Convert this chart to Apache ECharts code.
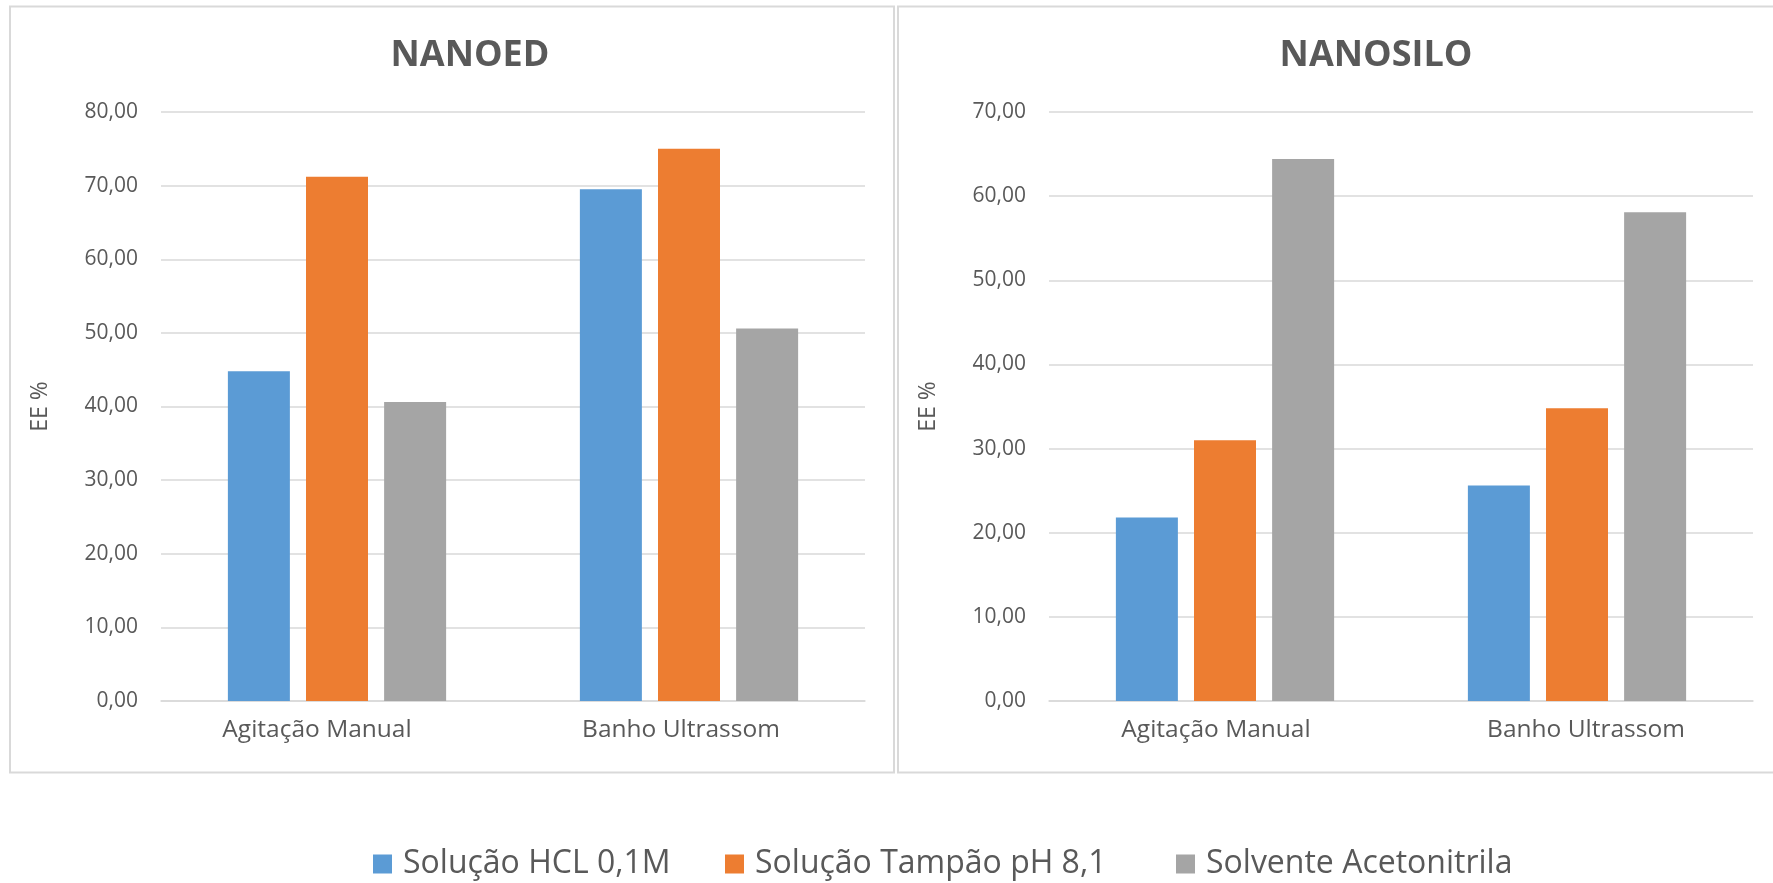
<!DOCTYPE html>
<html>
<head>
<meta charset="utf-8">
<title>EE % – NANOED / NANOSILO</title>
<script src="https://cdn.jsdelivr.net/npm/echarts@6/dist/echarts.min.js"></script>
<style>
  html, body { margin: 0; padding: 0; background: #ffffff; }
  #chart { width: 1773px; height: 883px; }
</style>
</head>
<body>
<div id="chart"></div>
<script>
// Categories and series
const categories = ['Agitação Manual', 'Banho Ultrassom'];
const seriesNames = ['Solução HCL 0,1M', 'Solução Tampão pH 8,1', 'Solvente Acetonitrila'];

// NANOED (EE %)
const nanoedHCL = [44.8, 69.5];
const nanoedTampao = [71.2, 75.0];
const nanoedAcetonitrila = [40.6, 50.6];

// NANOSILO (EE %)
const nanosiloHCL = [21.8, 25.6];
const nanosiloTampao = [31.0, 34.8];
const nanosiloAcetonitrila = [64.4, 58.1];

// Axis ranges
const nanoedMax = 80;
const nanosiloMax = 70;
const tickStep = 10;

const colors = ['#5B9BD5', '#ED7D31', '#A5A5A5'];
const textColor = '#595959';
const lineColor = '#D9D9D9';
const fontFamily = '"Open Sans", "Noto Sans", sans-serif';

const fmt = v => v.toFixed(2).replace('.', ',');

function yAxis(gridIndex, max) {
  return {
    type: 'value', gridIndex, min: 0, max, interval: tickStep,
    name: 'EE %', nameLocation: 'middle', nameRotate: 90, nameGap: 109,
    nameTextStyle: { color: textColor, fontSize: 23, fontFamily },
    axisLine: { show: false }, axisTick: { show: false },
    axisLabel: { color: textColor, fontSize: 21, fontFamily, margin: 23, formatter: fmt },
    splitLine: { lineStyle: { color: lineColor, width: 1.5 } }
  };
}

// Category labels sit slightly off the bar-group centres; dx nudges each one.
function xAxis(gridIndex, dx) {
  const rich = {};
  dx.forEach((d, i) => {
    rich['c' + i] = {
      color: textColor, fontSize: 24.5, fontFamily,
      padding: [0, d < 0 ? -2 * d : 0, 0, d > 0 ? 2 * d : 0]
    };
  });
  return {
    type: 'category', gridIndex, data: categories,
    axisLine: { lineStyle: { color: lineColor, width: 1.5 } },
    axisTick: { show: false },
    axisLabel: {
      color: textColor, fontSize: 24.5, fontFamily, margin: 17,
      formatter: (v, i) => `{c${i}|${v}}`, rich
    }
  };
}

function bars(name, data, idx, axisIdx) {
  return {
    name, type: 'bar', data, xAxisIndex: axisIdx, yAxisIndex: axisIdx,
    barWidth: 62, barGap: '26%',
    itemStyle: { color: colors[idx] },
    emphasis: { disabled: true }
  };
}

function legend(idx, left) {
  return {
    data: [seriesNames[idx]], left, top: 848, padding: 0,
    itemWidth: 19, itemHeight: 19, icon: 'rect',
    textStyle: { color: textColor, fontSize: 32, fontFamily, padding: [0, 0, 0, 6] },
    selectedMode: false
  };
}

const chart = echarts.init(document.getElementById('chart'), null, { renderer: 'canvas' });

chart.setOption({
  animation: false,
  backgroundColor: '#ffffff',
  color: colors,
  title: [
    { text: 'NANOED', left: 470, top: 38, textAlign: 'center', padding: 0,
      textStyle: { color: textColor, fontSize: 36, fontWeight: 'bold', fontFamily } },
    { text: 'NANOSILO', left: 1376, top: 38, textAlign: 'center', padding: 0,
      textStyle: { color: textColor, fontSize: 36, fontWeight: 'bold', fontFamily } }
  ],
  legend: [legend(0, 373), legend(1, 725), legend(2, 1176)],
  grid: [
    { left: 161, right: 908, top: 112, bottom: 182 },
    { left: 1049, right: 20, top: 112, bottom: 182 }
  ],
  xAxis: [xAxis(0, [-20, -8]), xAxis(1, [-9, 9])],
  yAxis: [yAxis(0, nanoedMax), yAxis(1, nanosiloMax)],
  series: [
    bars(seriesNames[0], nanoedHCL, 0, 0),
    bars(seriesNames[1], nanoedTampao, 1, 0),
    bars(seriesNames[2], nanoedAcetonitrila, 2, 0),
    bars(seriesNames[0], nanosiloHCL, 0, 1),
    bars(seriesNames[1], nanosiloTampao, 1, 1),
    bars(seriesNames[2], nanosiloAcetonitrila, 2, 1)
  ],
  graphic: [
    // panel frames
    { type: 'rect', silent: true, z: -1,
      shape: { x: 10, y: 6.5, width: 884, height: 766 },
      style: { fill: null, stroke: lineColor, lineWidth: 2 } },
    { type: 'rect', silent: true, z: -1,
      shape: { x: 898, y: 6.5, width: 890, height: 766 },
      style: { fill: null, stroke: lineColor, lineWidth: 2 } }
  ]
});
</script>
</body>
</html>
